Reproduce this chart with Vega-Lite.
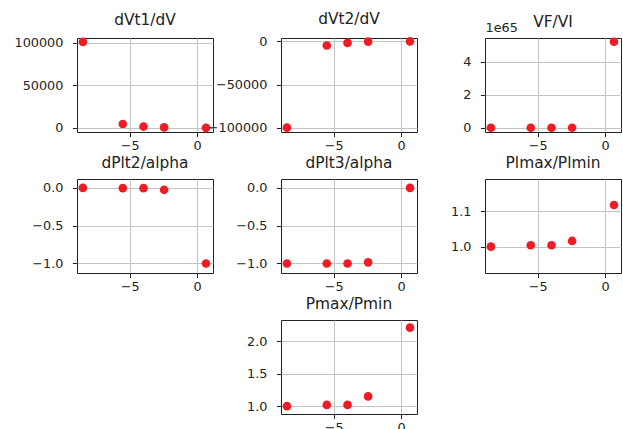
{
  "$schema": "https://vega.github.io/schema/vega-lite/v6.json",
  "padding": {"left": 13, "top": 11, "right": 0, "bottom": 0},
  "background": "white",
  "datasets": {
    "runs": [
      {"x": -8.48, "dVt1_dV": 101000, "dVt2_dV": -100000, "VF_VI": 1e58, "dPlt2_alpha": 0.0, "dPlt3_alpha": -1.0, "Plmax_Plmin": 1.0, "Pmax_Pmin": 1.0},
      {"x": -5.52, "dVt1_dV": 4300, "dVt2_dV": -4800, "VF_VI": 2e58, "dPlt2_alpha": -0.002, "dPlt3_alpha": -1.0, "Plmax_Plmin": 1.004, "Pmax_Pmin": 1.02},
      {"x": -3.98, "dVt1_dV": 1300, "dVt2_dV": -1800, "VF_VI": 3e58, "dPlt2_alpha": -0.003, "dPlt3_alpha": -1.0, "Plmax_Plmin": 1.004, "Pmax_Pmin": 1.02},
      {"x": -2.45, "dVt1_dV": 300, "dVt2_dV": -300, "VF_VI": 5e58, "dPlt2_alpha": -0.025, "dPlt3_alpha": -0.985, "Plmax_Plmin": 1.016, "Pmax_Pmin": 1.15},
      {"x": 0.66, "dVt1_dV": -200, "dVt2_dV": -100, "VF_VI": 5.22e65, "dPlt2_alpha": -1.0, "dPlt3_alpha": 0.0, "Plmax_Plmin": 1.117, "Pmax_Pmin": 2.207}
    ]
  },
  "data": {"name": "runs"},
  "columns": 3,
  "spacing": {"row": 47, "column": 68},
  "align": "all",
  "bounds": "flush",
  "config": {
    "font": "DejaVu Sans",
    "view": {"stroke": "#222", "strokeWidth": 1},
    "title": {"fontSize": 15.4, "fontWeight": "normal", "color": "#222", "offset": 8, "font": "DejaVu Sans"},
    "axis": {
      "domain": false,
      "grid": true,
      "gridColor": "#c4c4c4",
      "gridWidth": 1,
      "tickColor": "#222",
      "tickSize": 4.6,
      "tickWidth": 1,
      "labelFontSize": 12.8,
      "labelColor": "#222",
      "labelFont": "DejaVu Sans",
      "title": null
    },
    "axisY": {"labelPadding": 9.5},
    "axisX": {"labelPadding": 3},
    "circle": {"size": 75, "color": "#ee1c25", "opacity": 1}
  },
  "concat": [
    {
      "width": 136, "height": 94,
      "title": "dVt1/dV",
      "mark": "circle",
      "encoding": {
        "x": {"field": "x", "type": "quantitative", "scale": {"domain": [-8.92, 1.18], "nice": false, "zero": false}, "axis": {"values": [-5, 0]}},
        "y": {"field": "dVt1_dV", "type": "quantitative", "scale": {"domain": [-5100, 105500], "nice": false, "zero": false}, "axis": {"values": [0, 50000, 100000], "format": "d"}}
      }
    },
    {
      "width": 136, "height": 94,
      "title": "dVt2/dV",
      "mark": "circle",
      "encoding": {
        "x": {"field": "x", "type": "quantitative", "scale": {"domain": [-8.92, 1.18], "nice": false, "zero": false}, "axis": {"values": [-5, 0]}},
        "y": {"field": "dVt2_dV", "type": "quantitative", "scale": {"domain": [-105000, 3900], "nice": false, "zero": false}, "axis": {"values": [-100000, -50000, 0], "format": "d"}}
      }
    },
    {
      "width": 136, "height": 94,
      "title": {"text": "VF/VI", "offset": -9.5},
      "mark": "circle",
      "encoding": {
        "x": {"field": "x", "type": "quantitative", "scale": {"domain": [-8.92, 1.18], "nice": false, "zero": false}, "axis": {"values": [-5, 0]}},
        "y": {"field": "VF_VI", "type": "quantitative", "scale": {"domain": [-0.26e65, 5.45e65], "nice": false, "zero": false}, "axis": {"values": [0, 2e65, 4e65], "labelExpr": "round(datum.value / 1e65)", "title": "1e65", "titleAngle": 0, "titleX": 0, "titleY": -4, "titleAlign": "left", "titleBaseline": "bottom", "titleFontSize": 12.8, "titleFontWeight": "normal", "titleColor": "#222", "titleFont": "DejaVu Sans"}}
      }
    },
    {
      "width": 136, "height": 94,
      "title": "dPlt2/alpha",
      "mark": "circle",
      "encoding": {
        "x": {"field": "x", "type": "quantitative", "scale": {"domain": [-8.92, 1.18], "nice": false, "zero": false}, "axis": {"values": [-5, 0]}},
        "y": {"field": "dPlt2_alpha", "type": "quantitative", "scale": {"domain": [-1.126, 0.118], "nice": false, "zero": false}, "axis": {"values": [-1, -0.5, 0], "format": ".1f"}}
      }
    },
    {
      "width": 136, "height": 94,
      "title": "dPlt3/alpha",
      "mark": "circle",
      "encoding": {
        "x": {"field": "x", "type": "quantitative", "scale": {"domain": [-8.92, 1.18], "nice": false, "zero": false}, "axis": {"values": [-5, 0]}},
        "y": {"field": "dPlt3_alpha", "type": "quantitative", "scale": {"domain": [-1.126, 0.118], "nice": false, "zero": false}, "axis": {"values": [-1, -0.5, 0], "format": ".1f"}}
      }
    },
    {
      "width": 136, "height": 94,
      "title": "Plmax/Plmin",
      "mark": "circle",
      "encoding": {
        "x": {"field": "x", "type": "quantitative", "scale": {"domain": [-8.92, 1.18], "nice": false, "zero": false}, "axis": {"values": [-5, 0]}},
        "y": {"field": "Plmax_Plmin", "type": "quantitative", "scale": {"domain": [0.926, 1.19], "nice": false, "zero": false}, "axis": {"values": [1.0, 1.1], "format": ".1f"}}
      }
    },
    {
      "width": 136, "height": 94,
      "view": {"stroke": null},
      "mark": {"type": "circle", "opacity": 0},
      "encoding": {
        "x": {"field": "x", "type": "quantitative", "axis": null},
        "y": {"field": "Pmax_Pmin", "type": "quantitative", "axis": null}
      }
    },
    {
      "width": 136, "height": 94,
      "title": "Pmax/Pmin",
      "mark": "circle",
      "encoding": {
        "x": {"field": "x", "type": "quantitative", "scale": {"domain": [-8.92, 1.18], "nice": false, "zero": false}, "axis": {"values": [-5, 0]}},
        "y": {"field": "Pmax_Pmin", "type": "quantitative", "scale": {"domain": [0.88, 2.325], "nice": false, "zero": false}, "axis": {"values": [1.0, 1.5, 2.0], "format": ".1f"}}
      }
    }
  ]
}
